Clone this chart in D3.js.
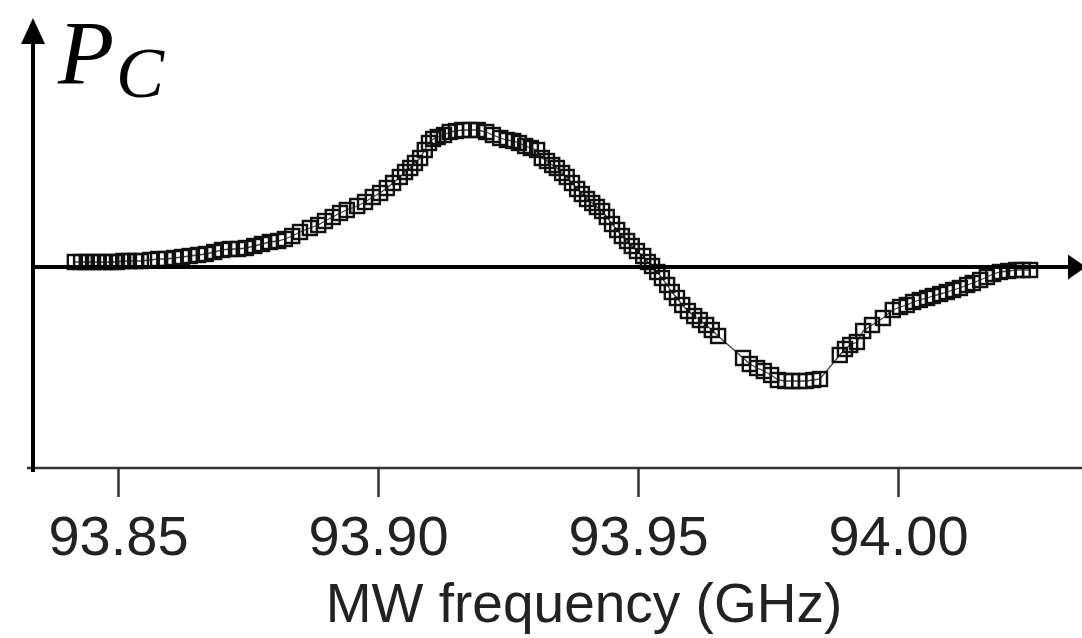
<!DOCTYPE html>
<meta charset="utf-8">
<style>
    body { margin: 0; background: #fff; }
    svg { display: block; }
    .tick text { font-family: "Liberation Sans", Arial, sans-serif; fill: #222; }
    .tick line { stroke: #333; stroke-width: 2.5; }
</style>
<body>
<script src="https://cdn.jsdelivr.net/npm/d3@7/dist/d3.min.js"></script>
<script>

    var width = 1082, height = 638;

    // microwave frequency (GHz)
    var freq = [
        93.8417, 93.8429, 93.8440, 93.8452, 93.8463, 93.8475, 93.8487, 93.8498, 93.8510, 93.8521,
        93.8533, 93.8544, 93.8562, 93.8577, 93.8592, 93.8608, 93.8623, 93.8638, 93.8654, 93.8669,
        93.8685, 93.8700, 93.8715, 93.8731, 93.8746, 93.8762, 93.8777, 93.8792, 93.8808, 93.8821,
        93.8835, 93.8850, 93.8869, 93.8885, 93.8898, 93.8913, 93.8927, 93.8940, 93.8960, 93.8975,
        93.8990, 93.9004, 93.9017, 93.9029, 93.9042, 93.9052, 93.9062, 93.9071, 93.9081, 93.9090,
        93.9098, 93.9106, 93.9115, 93.9127, 93.9138, 93.9150, 93.9162, 93.9177, 93.9192, 93.9208,
        93.9221, 93.9235, 93.9248, 93.9260, 93.9271, 93.9283, 93.9294, 93.9306, 93.9315, 93.9325,
        93.9335, 93.9344, 93.9354, 93.9363, 93.9373, 93.9383, 93.9392, 93.9402, 93.9412, 93.9421,
        93.9431, 93.9440, 93.9450, 93.9460, 93.9469, 93.9479, 93.9488, 93.9498, 93.9510, 93.9519,
        93.9527, 93.9537, 93.9546, 93.9556, 93.9565, 93.9575, 93.9585, 93.9596, 93.9608, 93.9619,
        93.9631, 93.9642, 93.9654, 93.9702, 93.9715, 93.9729, 93.9742, 93.9756, 93.9769, 93.9783,
        93.9796, 93.9810, 93.9823, 93.9837, 93.9850, 93.9888, 93.9898, 93.9908, 93.9921, 93.9933,
        93.9950, 93.9971, 93.9990, 94.0004, 94.0017, 94.0029, 94.0042, 94.0056, 94.0067, 94.0081,
        94.0094, 94.0106, 94.0119, 94.0133, 94.0144, 94.0158, 94.0171, 94.0183, 94.0196, 94.0212,
        94.0227, 94.0240, 94.0254
    ];

    // P_C (arb. units)
    var pc = [
        0.025, 0.025, 0.025, 0.025, 0.025, 0.025, 0.025, 0.025, 0.030, 0.030,
        0.030, 0.030, 0.035, 0.040, 0.040, 0.045, 0.050, 0.055, 0.060, 0.065,
        0.075, 0.085, 0.090, 0.090, 0.095, 0.105, 0.115, 0.125, 0.130, 0.140,
        0.155, 0.175, 0.195, 0.210, 0.230, 0.250, 0.270, 0.285, 0.305, 0.325,
        0.350, 0.370, 0.395, 0.420, 0.450, 0.475, 0.495, 0.520, 0.545, 0.585,
        0.620, 0.640, 0.650, 0.660, 0.675, 0.680, 0.685, 0.685, 0.685, 0.675,
        0.660, 0.645, 0.635, 0.630, 0.620, 0.605, 0.595, 0.585, 0.545, 0.530,
        0.510, 0.495, 0.470, 0.450, 0.420, 0.390, 0.365, 0.340, 0.320, 0.300,
        0.280, 0.250, 0.215, 0.185, 0.155, 0.130, 0.105, 0.080, 0.055, 0.025,
        0.005, -0.025, -0.055, -0.090, -0.125, -0.155, -0.190, -0.220, -0.245, -0.265,
        -0.290, -0.315, -0.345, -0.455, -0.485, -0.505, -0.520, -0.540, -0.565, -0.570,
        -0.570, -0.570, -0.570, -0.565, -0.560, -0.440, -0.410, -0.390, -0.375, -0.320,
        -0.290, -0.255, -0.215, -0.200, -0.190, -0.175, -0.165, -0.155, -0.145, -0.135,
        -0.125, -0.115, -0.105, -0.090, -0.080, -0.065, -0.050, -0.035, -0.025, -0.020,
        -0.015, -0.015, -0.015
    ];

    var tickValues = [93.85, 93.90, 93.95, 94.00];
    var xLabel = "MW frequency (GHz)";

    var data = freq.map(function(f, i) { return {f: f, p: pc[i]}; });

    var x = d3.scaleLinear().domain([93.85, 94.00]).range([118, 898]);
    var y = d3.scaleLinear().domain([-1, 1]).range([467, 67]);

    var svg = d3.select("body").append("svg")
            .attr("width", width)
            .attr("height", height);

    // original plot frame: bottom axis with ticks
    var axisY = 468;
    svg.append("line")
            .attr("x1", 27).attr("x2", width)
            .attr("y1", axisY).attr("y2", axisY)
            .attr("stroke", "#333").attr("stroke-width", 2.5);

    var xAxis = d3.axisBottom(x)
            .tickValues(tickValues)
            .tickFormat(d3.format(".2f"))
            .tickSize(29)
            .tickPadding(18);

    var gx = svg.append("g")
            .attr("transform", "translate(0," + axisY + ")")
            .call(xAxis);
    gx.select(".domain").remove();
    gx.selectAll(".tick text").style("font-size", "56px");

    svg.append("text")
            .attr("x", 584)
            .attr("y", 622)
            .attr("text-anchor", "middle")
            .style("font-family", "'Liberation Sans', Arial, sans-serif")
            .style("font-size", "55px")
            .style("fill", "#222")
            .text(xLabel);

    // data: thin connecting line + hollow squares
    var line = d3.line()
            .x(function(d) { return x(d.f); })
            .y(function(d) { return y(d.p); });

    svg.append("path")
            .datum(data)
            .attr("d", line)
            .attr("fill", "none")
            .attr("stroke", "#444")
            .attr("stroke-width", 1.3);

    var s = 14;
    svg.append("g").selectAll("rect")
            .data(data)
            .enter().append("rect")
            .attr("x", function(d) { return x(d.f) - s / 2; })
            .attr("y", function(d) { return y(d.p) - s / 2; })
            .attr("width", s)
            .attr("height", s)
            .attr("fill", "none")
            .attr("stroke", "#111")
            .attr("stroke-width", 2.4);

    // overlaid arrow axes
    var zeroY = y(0), x0 = 33;
    svg.append("line")
            .attr("x1", x0).attr("x2", x0)
            .attr("y1", 40).attr("y2", 472)
            .attr("stroke", "#000").attr("stroke-width", 4);
    svg.append("path")
            .attr("d", "M" + x0 + ",18L" + (x0 - 12) + ",44L" + (x0 + 12) + ",44Z")
            .attr("fill", "#000");

    svg.append("line")
            .attr("x1", x0).attr("x2", 1072)
            .attr("y1", zeroY).attr("y2", zeroY)
            .attr("stroke", "#000").attr("stroke-width", 4);
    svg.append("path")
            .attr("d", "M1086," + zeroY + "L1068," + (zeroY - 12.5) + "L1068," + (zeroY + 12.5) + "Z")
            .attr("fill", "#000");

    // P_C label
    var lbl = svg.append("text")
            .attr("x", 58)
            .attr("y", 84)
            .style("font-family", "'Liberation Serif', 'Times New Roman', serif")
            .style("font-style", "italic")
            .style("fill", "#000");
    lbl.append("tspan").style("font-size", "92px").text("P");
    lbl.append("tspan").attr("x", 116).attr("y", 97).style("font-size", "72px").text("C");

</script>
